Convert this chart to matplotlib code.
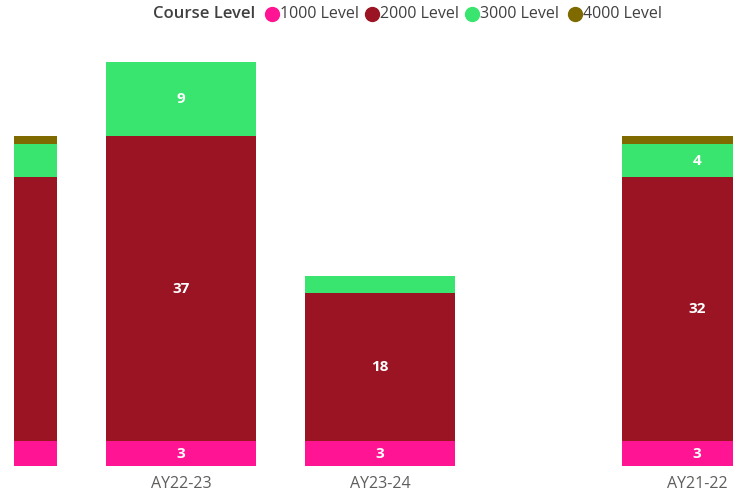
import matplotlib
matplotlib.use("Agg")
import matplotlib.pyplot as plt
from matplotlib.lines import Line2D

plt.rcParams['font.family'] = ['Open Sans', 'DejaVu Sans']

# Left panel (small multiple 1)
left_categories = ["AY21-22", "AY22-23", "AY23-24"]
left_1000 = [3, 3, 3]
left_2000 = [32, 37, 18]
left_3000 = [4, 9, 2]
left_4000 = [1, 0, 0]

# Right panel (small multiple 2, only first bar visible)
right_categories = ["AY21-22"]
right_1000 = [3]
right_2000 = [32]
right_3000 = [4]
right_4000 = [1]

level_names = ["1000 Level", "2000 Level", "3000 Level", "4000 Level"]
level_colors = ["#FF1493", "#9B1423", "#3AE56F", "#7F6A00"]

W, H = 733, 497
fig = plt.figure(figsize=(W / 100, H / 100), dpi=100)

px_per_unit_x = 199.0
base_px = 31          # baseline from bottom
top_px = 452
ymax = (top_px - base_px) / 8.25


def draw_panel(ax, cats, series, xlim):
    xs = list(range(len(cats)))
    bottoms = [0] * len(cats)
    for vals, col in zip(series, level_colors):
        ax.bar(xs, vals, bottom=bottoms, width=0.75, color=col, linewidth=0)
        for x, v, b in zip(xs, vals, bottoms):
            if v >= 3 and xlim[0] <= x <= xlim[1]:
                ax.text(x, b + v / 2, str(v), ha='center', va='center',
                        color='white', fontsize=11, fontweight='bold',
                        clip_on=True)
        bottoms = [b + v for b, v in zip(bottoms, vals)]
    ax.set_xticks(xs)
    ax.set_xticklabels(cats, fontsize=11.5, color='#605E5C')
    ax.tick_params(axis='x', length=0, pad=7)
    ax.set_yticks([])
    ax.set_ylim(0, ymax)
    ax.set_xlim(*xlim)
    for s in ax.spines.values():
        s.set_visible(False)
    ax.patch.set_alpha(0)


# left axes (starts 14 px in from the left edge)
lx = 14
lw = 560 - lx
axL = fig.add_axes([lx / W, base_px / H, lw / W, (top_px - base_px) / H])
x0 = (18 + lx) / px_per_unit_x
draw_panel(axL, left_categories, [left_1000, left_2000, left_3000, left_4000],
           (x0, x0 + lw / px_per_unit_x))

# right axes
rx = 560
rw = W - rx
axR = fig.add_axes([rx / W, base_px / H, rw / W, (top_px - base_px) / H])
off = (697 - rx) / px_per_unit_x
draw_panel(axR, right_categories, [right_1000, right_2000, right_3000, right_4000],
           (-off, -off + rw / px_per_unit_x))

# legend
ly = 1 - 14 / H
fig.text(153 / W, ly, "Course Level", ha='left', va='center',
         fontsize=12, fontweight='semibold', color='#404040')
marker_x = [272, 372, 472, 575]
for mx, name, col in zip(marker_x, level_names, level_colors):
    fig.add_artist(Line2D([mx / W], [ly], marker='o', linestyle='none',
                          markersize=10, markerfacecolor=col,
                          markeredgecolor=col, transform=fig.transFigure))
    fig.text((mx + 8) / W, ly, name, ha='left', va='center',
             fontsize=11.5, color='#404040')

fig.savefig("out.png", dpi=100)
